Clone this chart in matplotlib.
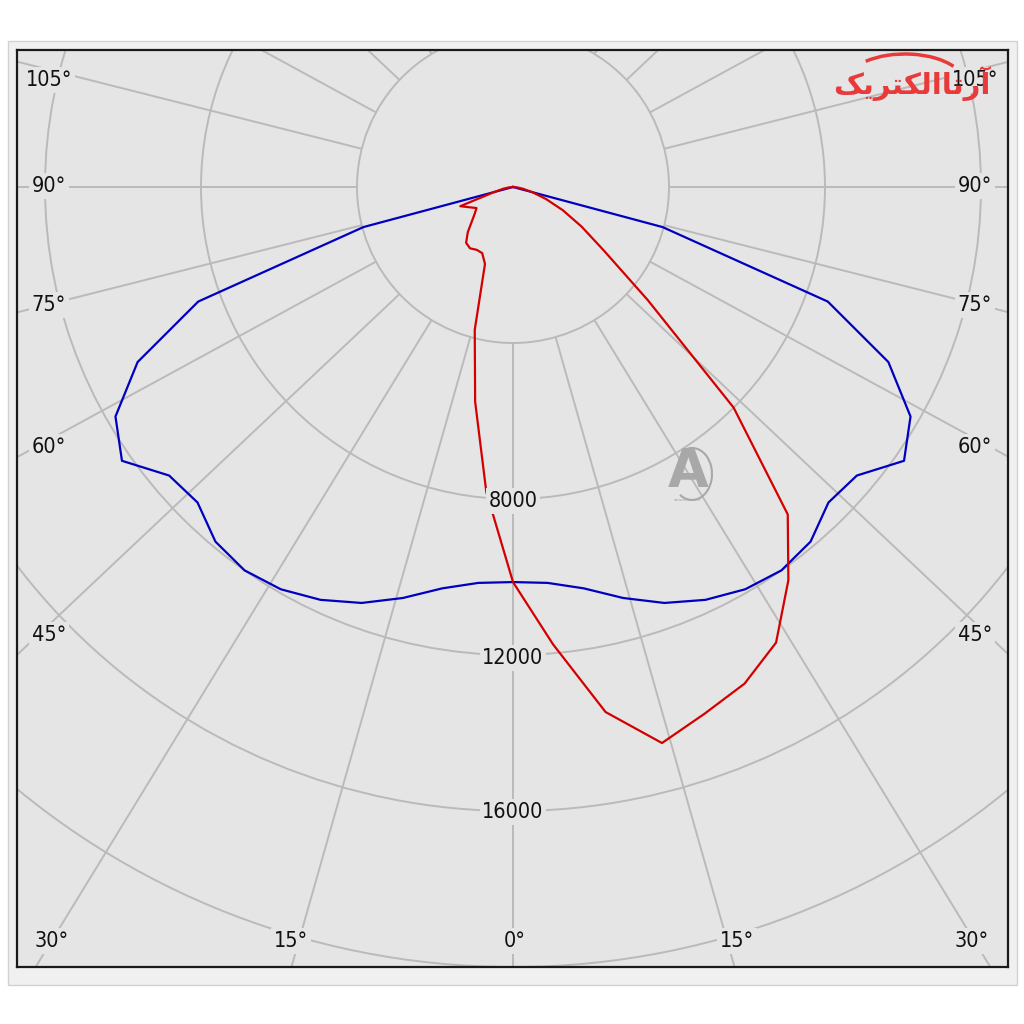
import numpy as np
import matplotlib.pyplot as plt
from matplotlib.patches import Circle, Rectangle, Arc

# luminous intensity (cd)
# blue: C0-C180 plane (symmetric), red: C90-C270 plane
blue_angles = [0, 5, 10, 15, 20, 25, 30, 35, 40, 45, 50, 55, 60, 65, 70, 75, 90]
blue_cd = [10130, 10190, 10450, 10910, 11350, 11680, 11910, 12000, 11870,
           11440, 11510, 12240, 11770, 10620, 8590, 3970, 0]

red_angles = [-90, -85, -80, -75, -70, -65, -60, -55, -50, -45, -40, -35,
              -30, -25, -20, -15, -10, -5, 0, 5, 10, 15, 20, 25, 30, 35,
              40, 45, 50, 55, 60, 65, 70, 75, 80, 85, 90]
red_cd = [0, 100, 250, 500, 1440, 1230, 1080, 1200, 1380, 1640, 1870, 1920,
          1860, 1870, 2100, 3790, 5590, 7850, 10130, 11770, 13670, 14760,
          14370, 14050, 13490, 12310, 10960, 8000, 4510, 2850, 2030, 1410,
          900, 510, 260, 100, 0]

ring_values = [4000, 8000, 12000, 16000, 20000, 24000]
ring_labels = ['8000', '12000', '16000']
ray_angles = list(range(-180, 180, 15))
side_labels = ['105°', '90°', '75°', '60°', '45°']
bottom_labels = ['30°', '15°', '0°', '15°', '30°']

# layout (pixels of the 1024x1024 picture)
W, H = 1024, 1024
PX = 4000 / 156.0          # cd per pixel
cx, cy = 513, 187          # pole of the diagram
left, right, top, bottom = 17, 1008, 50, 967
bg = '#e5e5e5'
grid_c = '#bababa'


def to_xy(deg, cd):
    t = np.radians(np.asarray(deg, dtype=float))
    r = np.asarray(cd, dtype=float)
    return r * np.sin(t), -r * np.cos(t)


def px(x, y):
    return (x - cx) * PX, (cy - y) * PX


fig = plt.figure(figsize=(W / 100, H / 100), dpi=100)
fig.patches.append(Rectangle((8 / W, 1 - 985 / H), 1009 / W, 944 / H,
                             transform=fig.transFigure, fc='#f0f0f0',
                             ec='#d2d2d2', lw=1, zorder=-1))
ax = fig.add_axes([left / W, 1 - bottom / H, (right - left) / W, (bottom - top) / H])
ax.set_zorder(1)
ax.set_xlim((left - cx) * PX, (right - cx) * PX)
ax.set_ylim(-(bottom - cy) * PX, (cy - top) * PX)
ax.set_facecolor(bg)
ax.set_xticks([])
ax.set_yticks([])
for sp in ax.spines.values():
    sp.set_linewidth(1.6)
    sp.set_color('#1a1a1a')

# grid circles
for r in ring_values:
    ax.add_patch(Circle((0, 0), r, fill=False, ec=grid_c, lw=1.4, zorder=1))

# grid rays (drawn slightly stretched sideways, as in the original software)
k = 1.06
for a in ray_angles:
    t = np.radians(a)
    d = np.array([k * np.sin(t), -np.cos(t)])
    d /= np.hypot(*d)
    ax.plot([4000 * d[0], 40000 * d[0]], [4000 * d[1], 40000 * d[1]],
            color=grid_c, lw=1.4, zorder=1, solid_capstyle='butt')

# curves
ba = np.array(blue_angles)
bc = np.array(blue_cd)
bx, by = to_xy(np.concatenate([-ba[::-1], ba[1:]]),
               np.concatenate([bc[::-1], bc[1:]]))
ax.plot(bx, by, color='#0000c0', lw=1.6, zorder=3)
rx, ry = to_xy(red_angles, red_cd)
ax.plot(rx, ry, color='#d40000', lw=1.6, zorder=3)

font = dict(fontsize=15.5, fontstretch='condensed', color='#111111',
            ha='center', va='center', zorder=5)
box = dict(boxstyle='square,pad=0.12', fc=bg, ec='none')

# radial value labels
for lab, yy in zip(ring_labels, [501, 658, 812]):
    ax.text(*px(513, yy), lab, bbox=box, **font)

# angle labels on the sides
for lab, yy in zip(side_labels, [80, 186, 305, 447, 635]):
    ax.text(*px(49, yy), lab, bbox=box, **font)
    ax.text(*px(975, yy), lab, bbox=box, **font)

# angle labels at the bottom
for lab, xx in zip(bottom_labels, [52, 291, 515, 737, 972]):
    ax.text(*px(xx, 941), lab, bbox=box, **font)

# watermark and logo
ax.text(*px(688, 472), 'A', fontsize=38, fontweight='bold', color='#a8a8a8',
        ha='center', va='center', zorder=2)
ax.add_patch(Arc(px(692, 474), 40 * PX, 52 * PX, theta1=-120, theta2=100,
                 color='#a8a8a8', lw=1.5, zorder=2))
ax.text(*px(688, 500), 'artaelectric.ir', fontsize=3, color='#a8a8a8',
        ha='center', va='center', zorder=2)
logo = '\uFB8F\uFBFE\uFEAE\uFE98\uFB91\uFEDF\uFE8D\uFE8E\uFE97\uFEAD\uFE81'
ax.text(*px(912, 84), logo, fontsize=21, fontweight='bold', color='#e83a3a',
        family='DejaVu Sans', ha='center', va='center', zorder=6)
ax.add_patch(Arc(px(905, 84), 120 * PX, 60 * PX, theta1=20, theta2=150,
                 color='#e83a3a', lw=2.5, zorder=6))

fig.savefig('out.png', dpi=100, facecolor='white')
